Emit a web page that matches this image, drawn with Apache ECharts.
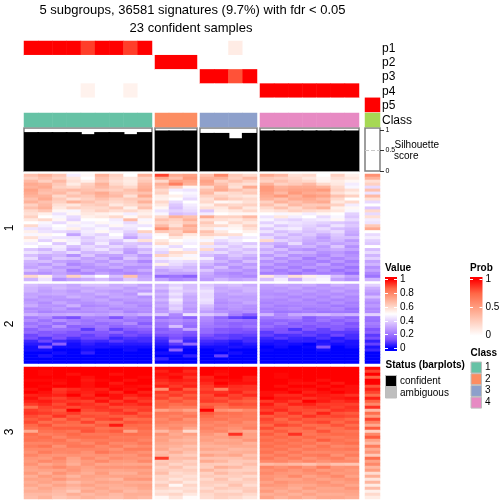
<!DOCTYPE html>
<html><head><meta charset="utf-8">
<style>html,body{margin:0;padding:0;background:#fff}#c{width:504px;height:504px}</style>
<script src="https://cdn.jsdelivr.net/npm/echarts@6/dist/echarts.min.js"></script>
</head><body><div id="c"></div>
<script>
const titleLines = ["5 subgroups, 36581 signatures (9.7%) with fdr < 0.05", "23 confident samples"];
const annotationNames = ["p1","p2","p3","p4","p5","Class"];
const p1 = [100,100,100,100,85,100,100,85,100, 0,0,0, 0,0,10,0, 0,0,0,0,0,0,0, 0];
const p2 = [0,0,0,0,0,0,0,0,0, 100,100,100, 0,0,0,0, 0,0,0,0,0,0,0, 0];
const p3 = [0,0,0,0,0,0,0,0,0, 0,0,0, 100,100,80,100, 0,0,0,0,0,0,0, 0];
const p4 = [0,0,0,0,7,0,0,7,0, 0,0,0, 0,0,0,0, 100,100,100,100,100,100,100, 0];
const p5 = [0,0,0,0,0,0,0,0,0, 0,0,0, 0,0,0,0, 0,0,0,0,0,0,0, 100];
const classes = [1,1,1,1,1,1,1,1,1, 2,2,2, 3,3,3,3, 4,4,4,4,4,4,4, 5];
const silhouette = [.95,.95,.95,.95,.90,.95,.95,.90,.95, .99,.99,.99, .93,.93,.80,.93, .99,.99,.99,.99,.99,.99,.99, 0];
const classColors = ["#66C2A5","#FC8D62","#8DA0CB","#E78AC3","#A6D854"];
const valueTicks = [0,0.2,0.4,0.6,0.8,1];
const probTicks = [0,0.5,1];
const silTicks = [0,0.5,1];
const statusNames = ["confident","ambiguous"];
const classLegend = ["1","2","3","4"];
const rowTitles = ["1","2","3"];
// heatmap rows in percent; columns: 9 + 3 + 4 + 7 + 1
const block1 = [
[66,70,65,46,52,70,62,50,70,92,72,74,66,80,64,60,72,68,58,60,50,62,54,78],
[62,66,62,56,50,66,60,56,62,72,66,76,70,70,62,68,64,62,60,56,52,58,56,70],
[68,62,68,58,54,64,58,55,64,60,74,72,74,62,66,62,62,66,62,60,53,55,52,58],
[72,70,64,55,62,70,60,56,68,70,82,70,72,66,60,58,70,62,64,68,60,56,46,62],
[70,72,62,60,64,68,64,60,70,66,62,52,60,70,58,72,76,70,72,72,70,60,48,42],
[74,68,66,68,66,64,62,66,72,60,46,44,66,72,66,62,76,72,74,74,76,62,58,66],
[72,66,68,62,68,72,66,64,66,62,50,48,68,58,60,64,74,68,76,72,70,58,54,44],
[70,70,60,66,64,70,68,58,72,55,54,46,62,62,58,56,72,76,70,76,74,66,62,68],
[66,72,64,58,62,66,62,64,64,54,50,42,58,66,62,60,70,66,72,72,68,60,50,58],
[70,66,62,70,66,62,60,62,70,60,42,50,60,52,54,58,62,70,66,70,72,56,60,42],
[62,68,58,56,62,64,56,60,62,56,38,46,54,62,60,62,66,60,68,64,64,62,46,50],
[66,70,56,62,60,60,64,54,66,52,36,44,58,56,64,56,60,66,60,66,70,54,52,38],
[60,64,52,48,58,62,58,60,56,44,40,42,38,54,56,60,56,58,62,60,58,56,48,60],
[58,54,44,52,56,54,52,46,54,48,36,38,46,50,52,52,50,48,52,46,52,50,40,42],
[62,50,48,42,54,56,60,52,58,60,70,66,72,62,62,68,44,56,46,50,42,48,38,58],
[56,60,52,40,50,50,46,68,48,66,62,70,58,58,56,60,48,42,40,44,46,52,42,46],
[50,48,42,52,46,52,48,42,52,62,60,64,64,52,60,56,40,46,44,42,40,38,36,44],
[60,46,50,46,48,44,52,46,44,68,58,72,60,60,54,62,46,38,42,40,36,44,38,64],
[44,42,48,54,44,48,42,44,50,78,66,68,56,48,52,58,38,44,46,38,42,36,34,72],
[54,44,42,40,46,52,46,40,62,64,62,72,66,56,50,54,44,36,40,36,38,42,32,50],
[48,52,50,30,44,40,50,36,42,52,64,56,62,60,58,50,36,40,34,38,32,38,30,42],
[58,46,44,44,38,44,46,30,40,50,56,52,54,48,44,46,42,34,38,34,28,36,36,46],
[52,40,52,46,40,42,38,46,58,56,50,48,48,42,46,50,60,40,36,32,30,34,28,40],
[46,50,38,48,36,46,34,38,36,60,54,46,58,38,42,38,34,32,42,30,34,30,32,38],
[50,44,46,36,42,38,42,36,42,48,42,50,44,44,38,44,38,28,32,34,28,38,26,50],
[38,34,44,32,40,44,36,30,34,44,52,44,60,36,40,36,32,36,28,26,30,32,30,36],
[44,40,36,42,34,36,40,28,38,40,60,58,40,42,36,40,36,30,34,32,26,28,24,42],
[36,32,34,26,38,30,30,34,28,62,56,48,36,32,38,34,28,34,26,28,24,30,26,34],
[42,30,38,36,30,34,26,38,32,46,48,52,46,30,34,30,34,26,30,22,28,24,28,40],
[34,36,30,28,32,28,34,30,24,40,44,42,38,34,28,36,26,30,24,26,22,28,22,30],
[32,28,34,24,28,32,28,32,30,54,42,38,34,28,32,28,30,24,26,24,30,22,26,34],
[30,34,28,30,26,28,32,26,26,36,38,34,30,36,26,32,24,28,22,28,24,26,20,26],
[36,30,32,22,30,26,24,28,32,30,34,36,38,30,30,26,28,22,26,20,26,20,24,30],
[28,26,30,26,24,30,26,24,26,32,30,30,32,26,24,28,22,24,20,24,22,24,18,24],
[60,54,34,62,42,50,36,66,30,18,20,16,30,28,26,24,56,40,58,54,46,36,30,20],
[34,44,26,30,32,36,30,38,32,30,24,26,28,34,30,32,36,46,32,44,48,30,26,34]
];
const block2 = [
[36,34,34,31,36,36,32,34,30,34,40,36,38,34,36,32,30,32,30,32,28,33,30,40],
[34,31,35,32,31,33,33,29,33,36,44,36,40,31,33,34,29,28,31,27,29,28,30,33],
[34,29,31,28,33,30,28,31,28,30,40,38,44,32,30,34,27,29,27,29,26,30,26,30],
[30,31,32,30,29,33,30,27,42,34,44,34,42,29,32,31,26,25,28,25,27,25,28,27],
[31,27,28,33,30,27,31,30,26,30,40,31,42,29,28,29,28,27,24,27,24,28,24,36],
[27,29,27,26,29,31,26,28,29,34,46,32,44,27,30,29,25,24,27,23,26,23,25,28],
[29,25,31,27,26,28,30,25,26,29,42,29,42,25,27,31,23,25,24,25,22,26,22,25],
[32,27,26,33,24,25,28,28,24,31,38,30,36,27,28,26,25,22,23,24,24,21,23,28],
[25,26,29,23,27,28,24,26,26,27,40,27,33,24,27,25,22,23,25,21,22,24,19,24],
[27,23,25,26,25,26,28,23,25,28,34,28,29,26,24,26,23,20,21,22,20,21,20,25],
[33,30,31,33,31,29,32,29,33,38,24,44,38,34,22,15,34,24,31,33,35,32,34,40],
[22,25,16,12,23,22,13,23,19,19,22,16,25,17,10,8,21,23,24,15,19,21,17,20],
[25,20,26,22,20,23,23,20,20,24,26,23,24,20,21,19,18,17,19,15,20,16,19,19],
[20,23,18,24,21,18,20,25,15,20,24,20,22,18,16,17,16,20,15,17,15,18,13,22],
[23,18,27,16,18,21,17,18,21,21,36,18,21,20,17,20,19,15,17,13,16,15,15,20],
[16,21,19,18,9,19,10,15,16,15,19,30,18,14,13,15,14,13,8,14,10,15,11,13],
[18,14,16,13,15,14,17,11,13,17,17,14,18,15,13,12,9,13,12,9,10,9,9,16],
[11,15,12,13,10,13,10,12,10,12,14,12,13,10,9,10,10,7,8,10,7,11,7,9],
[12,8,13,8,11,11,6,8,7,8,12,8,10,11,9,7,6,9,6,5,8,4,7,12],
[6,11,6,4,7,6,9,6,7,6,22,6,7,6,4,7,4,3,5,5,3,5,3,5],
[4,4,16,2,5,3,4,4,4,4,9,18,5,4,2,4,2,3,2,0,4,2,3,10],
[2,14,2,2,3,3,2,2,2,2,4,2,2,2,3,2,0,2,0,1,14,0,2,3],
[2,2,0,0,2,0,0,2,0,0,16,0,0,2,0,0,1,0,0,0,2,0,0,6],
[0,0,2,0,5,0,0,0,0,2,2,0,0,0,2,0,0,0,0,0,0,0,0,0],
[0,3,0,0,0,0,0,0,0,0,0,5,0,10,0,0,0,0,0,0,0,0,0,0],
[0,0,0,0,0,0,0,0,0,5,0,0,0,0,0,0,0,0,0,0,0,0,0,0],
[0,0,0,0,0,0,0,0,0,0,0,0,0,0,0,0,0,0,0,0,0,0,0,0]
];
const block3 = [
[100,100,100,100,100,100,100,100,100,99,99,98,100,100,100,100,100,100,100,100,100,100,100,99],
[100,99,100,100,100,100,100,100,100,96,99,95,100,99,100,100,100,100,100,100,100,100,100,92],
[100,99,100,98,100,100,98,100,100,98,97,97,100,98,100,100,100,99,100,100,100,100,100,100],
[100,100,100,100,98,100,100,100,99,97,99,94,96,100,100,97,100,99,100,100,100,100,100,88],
[99,99,99,100,97,99,100,98,100,95,97,96,97,98,99,97,100,100,99,100,98,100,100,100],
[100,100,98,100,98,100,97,100,100,93,95,94,95,100,98,98,100,100,98,98,100,97,100,100],
[100,99,100,100,98,100,99,99,98,96,93,96,93,97,95,94,100,98,100,100,98,100,98,90],
[98,100,93,95,97,96,100,98,100,78,96,89,92,82,94,94,100,100,98,98,100,98,98,96],
[100,98,94,97,96,98,95,100,96,93,91,93,94,94,96,92,98,98,100,96,98,100,98,92],
[96,97,96,100,95,100,98,96,98,90,93,89,91,96,92,95,98,95,95,98,97,96,94,86],
[98,94,92,95,97,95,98,93,95,92,88,91,92,90,93,90,100,97,97,94,96,97,98,96],
[96,97,94,93,92,98,93,97,93,87,90,87,93,92,89,88,93,96,93,100,97,94,96,88],
[93,95,91,96,94,92,96,94,96,88,86,88,88,88,91,90,97,92,96,96,93,93,92,80],
[86,92,93,91,93,94,91,92,92,87,83,83,90,85,88,88,94,93,91,93,94,92,94,94],
[93,91,89,100,91,93,94,90,93,74,78,74,100,78,76,80,92,95,91,91,90,94,93,68],
[94,93,91,93,89,89,92,94,89,84,84,81,89,86,85,83,96,90,94,90,96,90,89,86],
[91,89,94,89,91,90,89,89,91,83,81,84,87,83,84,82,89,91,89,94,91,92,91,76],
[89,91,86,91,87,91,93,86,87,80,84,78,84,85,82,83,92,87,91,89,89,89,87,92],
[91,86,89,87,92,86,87,90,89,82,80,80,82,80,83,79,90,89,87,90,92,87,90,82],
[87,90,85,86,85,89,97,87,86,79,78,77,80,82,80,80,87,92,90,86,87,90,86,72],
[85,87,89,89,89,85,86,85,87,77,80,73,82,79,78,82,91,86,86,89,85,86,89,89],
[72,85,86,84,90,87,89,74,84,68,74,60,79,81,75,72,86,89,85,85,90,85,84,62],
[86,82,84,87,84,84,85,86,85,78,72,75,77,73,94,75,89,85,94,84,86,87,86,80],
[84,86,81,85,86,86,83,83,83,74,74,71,74,75,77,74,85,87,84,87,84,83,85,89],
[85,84,85,80,83,83,84,84,81,75,70,69,75,72,73,77,87,84,86,83,89,85,83,74],
[81,81,83,83,80,85,80,81,84,73,72,71,72,74,74,70,84,86,83,85,81,84,86,68],
[83,85,78,84,84,80,83,78,80,71,70,66,70,70,72,72,86,83,85,81,85,80,81,83],
[80,80,81,80,81,81,78,83,83,73,67,69,73,72,68,69,83,85,81,84,83,83,84,72],
[78,83,80,81,78,84,81,80,78,67,71,66,68,68,70,71,85,81,84,80,80,81,80,77],
[81,78,77,78,77,78,77,77,81,69,65,63,74,71,73,66,81,84,80,83,84,78,83,64],
[77,76,81,74,80,76,80,78,77,93,67,68,66,66,66,69,84,80,83,78,81,83,78,86],
[76,80,78,73,76,80,76,76,80,64,65,62,72,69,64,64,80,81,78,81,78,80,80,74],
[78,73,76,71,77,73,74,73,73,66,61,64,64,63,63,67,68,70,68,66,70,66,65,80],
[74,77,80,76,74,77,77,77,78,62,66,60,63,71,68,63,81,78,81,77,83,77,78,69],
[73,74,74,77,73,74,73,74,74,64,62,63,69,64,62,62,78,80,77,80,76,78,76,75],
[76,71,78,74,71,76,71,71,76,67,59,61,62,68,64,66,80,77,76,78,80,76,77,59],
[71,76,73,69,74,73,74,74,73,61,61,58,64,62,63,60,77,76,80,74,77,80,74,71],
[74,73,77,73,73,71,69,76,77,62,57,60,60,66,60,64,78,74,74,77,74,76,78,57],
[71,74,71,67,71,74,73,71,71,59,62,56,63,63,63,62,74,78,76,76,78,74,76,69],
[73,70,74,71,74,71,71,73,74,64,52,61,62,60,66,59,77,76,73,73,76,77,73,55],
[69,73,70,68,70,73,70,70,73,61,59,58,59,64,62,63,73,74,71,76,73,73,77,67],
[71,71,68,64,73,70,73,68,70,57,56,60,63,60,59,64,76,71,74,71,74,74,74,54],
[68,68,67,71,68,71,68,71,71,59,61,56,60,63,63,60,71,73,70,74,71,71,73,60],
[67,70,65,67,70,68,67,70,68,52,57,51,59,62,60,57,74,70,73,70,73,73,71,55]
];

const groupSizes = [9,3,4,7,1];
const groupBoxes = [[24,128],[155,42],[200,57],[260,99],[365,15]];
const valueStops = ["#0000FF","#7E51FF","#B28BFF","#DCC5FF","#FFFFFF","#FFCFBF","#FF9E81","#FF6746","#FF0000"];
const probStops = ["#FFFFFF","#FFCFBF","#FF9E81","#FF6746","#FF0000"];
const FONT = "Liberation Sans";

const grid=[],xAxis=[],yAxis=[],series=[];
const valueSeries=[],probSeries=[],classSeries=[];
function addGrid(box,top,height,yOpts,xN){
  const i=grid.length;
  grid.push({left:box[0],width:box[1],top:top,height:height,show:false});
  xAxis.push({type:'category',gridIndex:i,show:false,data:Array.from({length:xN},(_,k)=>k)});
  yAxis.push(Object.assign({gridIndex:i,show:false},yOpts));
  return yAxis.length-1;
}
function addHeat(box,top,height,rows,start,n,list){
  const xi=xAxis.length;
  const yi=addGrid(box,top,height,{type:'category',inverse:true,data:rows.map((_,k)=>k)},n);
  const d=[];
  rows.forEach((r,y)=>{for(let x=0;x<n;x++)d.push([x,y,r[start+x]]);});
  list.push(series.length);
  series.push({type:'heatmap',xAxisIndex:xi,yAxisIndex:yi,data:d,silent:true,animation:false,progressive:0,emphasis:{disabled:true}});
}
let start=0;
groupSizes.forEach((n,g)=>{
  const box=groupBoxes[g];
  addHeat(box,41,71,[p1,p2,p3,p4,p5],start,n,probSeries);
  addHeat(box,113,14,[classes],start,n,classSeries);
  const isLast=g===groupSizes.length-1;
  const i=grid.length;
  grid.push({left:box[0],width:box[1],top:128,height:43,show:true,borderColor:'#7f7f7f',borderWidth:1.5,backgroundColor:'#fff'});
  xAxis.push({type:'category',gridIndex:i,show:false,data:Array.from({length:n},(_,k)=>k)});
  yAxis.push({type:'value',gridIndex:i,min:0,max:1.05,show:isLast,position:'right',
    axisLine:{show:false},splitLine:{show:false},
    axisTick:{show:true,length:4,customValues:silTicks,lineStyle:{color:'#333',width:1}},
    axisLabel:{show:false}});
  const s={type:'bar',xAxisIndex:i,yAxisIndex:yAxis.length-1,barWidth:Math.ceil(box[1]/n)+1,data:silhouette.slice(start,start+n),itemStyle:{color:'#000'},silent:true,animation:false};
  if(isLast)s.markLine={silent:true,symbol:'none',label:{show:false},animation:false,lineStyle:{color:'#c8c8c8',type:'dashed',width:1},data:[{yAxis:0.5}]};
  series.push(s);
  addHeat(box,174,107,block1,start,n,valueSeries);
  addHeat(box,284,79.5,block2,start,n,valueSeries);
  addHeat(box,367,132,block3,start,n,valueSeries);
  start+=n;
});

function stopsToGrad(stops,lo){
  const span=1+2*lo;
  const cs=stops.map((c,k)=>({offset:(lo+1-k/(stops.length-1))/span,color:c})).reverse();
  cs.unshift({offset:0,color:stops[stops.length-1]});
  cs.push({offset:1,color:stops[0]});
  return {type:'linear',x:0,y:0,x2:0,y2:1,colorStops:cs};
}
function addColorbar(box,top,height,stops,ticks){
  const i=grid.length;
  grid.push({left:box[0],width:box[1],top:top,height:height,show:true,borderWidth:0,backgroundColor:stopsToGrad(stops,0.04)});
  xAxis.push({type:'category',gridIndex:i,show:false,data:['a']});
  const tick={show:true,inside:true,length:3,customValues:ticks,lineStyle:{color:'#fff',width:1}};
  yAxis.push({type:'value',gridIndex:i,min:-0.04,max:1.04,position:'right',axisLine:{show:false},splitLine:{show:false},axisTick:tick,
    axisLabel:{fontFamily:FONT,fontSize:10,margin:3,rotate:0,color:'#000',customValues:ticks,formatter:v=>String(v)}});
  yAxis.push({type:'value',gridIndex:i,min:-0.04,max:1.04,position:'left',axisLine:{show:false},splitLine:{show:false},axisTick:tick,axisLabel:{show:false}});
}
addColorbar([385,12],277,74,valueStops,valueTicks);
addColorbar([470,12.5],277,61,probStops,probTicks);

const txt=(x,y,t,o)=>({type:'text',x:x,y:y,silent:true,style:Object.assign({text:t,fontFamily:FONT,fontSize:10,fill:'#000',textVerticalAlign:'middle'},o||{})});
const graphics=[];
graphics.push(txt(192.5,10,titleLines[0],{fontSize:13,textAlign:'center'}));
graphics.push(txt(191,28,titleLines[1],{fontSize:13,textAlign:'center'}));
[49,63,77,92,106,121].forEach((y,k)=>graphics.push(txt(382,y,annotationNames[k],{fontSize:12})));
graphics.push(txt(394.5,145,"Silhouette"));
graphics.push(txt(394,156,"score"));
silTicks.forEach(v=>graphics.push(txt(385.5,171-41*v,String(v),{fontSize:7})));
[228,324,432].forEach((y,k)=>graphics.push({type:'text',x:10,y:y,rotation:Math.PI/2,silent:true,originX:0,originY:0,style:{text:rowTitles[k],fontFamily:FONT,fontSize:12,fill:'#000',textAlign:'center',textVerticalAlign:'middle'}}));
graphics.push(txt(385,268.5,"Value",{fontWeight:'bold'}));
graphics.push(txt(470,268.5,"Prob",{fontWeight:'bold'}));
graphics.push(txt(470.5,353,"Class",{fontWeight:'bold'}));
graphics.push(txt(385.5,365.5,"Status (barplots)",{fontWeight:'bold'}));
const sw=(x,y,w,h,c)=>({type:'rect',silent:true,shape:{x:x,y:y,width:w,height:h},style:{fill:c,stroke:'#bdbdbd',lineWidth:1}});
["#000000","#BEBEBE"].forEach((c,k)=>{
  graphics.push(sw(385.5,375.5+k*11.5,11,11,c));
  graphics.push(txt(400,381+k*11.8,statusNames[k]));
});
classLegend.forEach((t,k)=>{
  graphics.push(sw(471,362+k*11.7,10.5,11,classColors[k]));
  graphics.push(txt(485,367.3+k*11.6,t));
});

const chart=echarts.init(document.getElementById('c'),null,{renderer:'canvas',width:504,height:504});
chart.setOption({
  animation:false,backgroundColor:'#fff',grid,xAxis,yAxis,series,
  visualMap:[
    {type:'continuous',show:false,dimension:2,min:0,max:100,seriesIndex:valueSeries,inRange:{color:valueStops}},
    {type:'continuous',show:false,dimension:2,min:0,max:100,seriesIndex:probSeries,inRange:{color:probStops}},
    {type:'piecewise',show:false,dimension:2,seriesIndex:classSeries,pieces:classColors.map((c,k)=>({value:k+1,color:c}))}
  ],
  graphic:{elements:graphics}
});
</script></body></html>
